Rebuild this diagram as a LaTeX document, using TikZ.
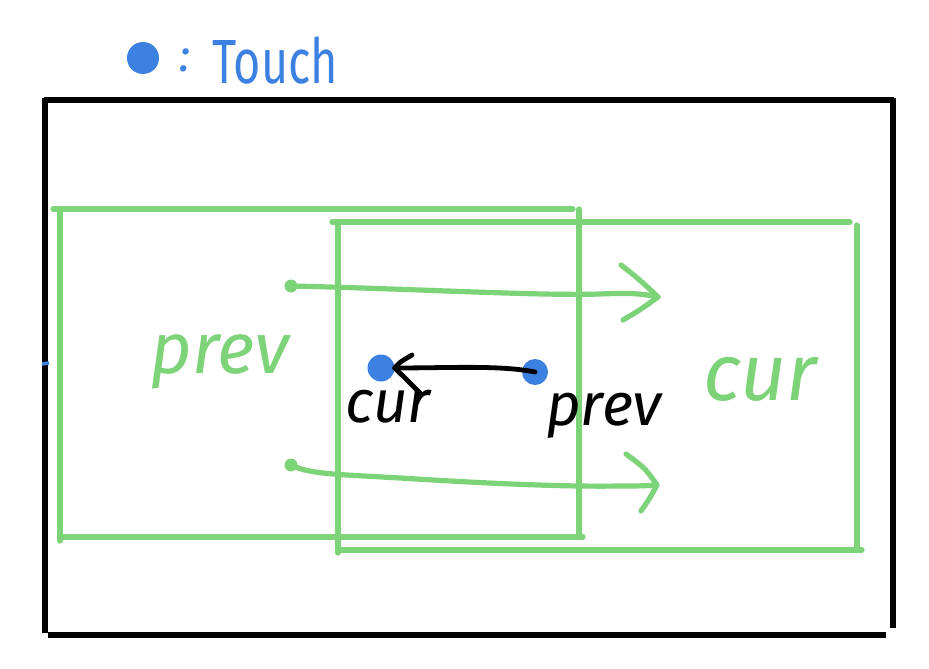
\documentclass[tikz,border=0pt]{standalone}
\usepackage{fontspec}
\setmainfont{Fira Sans}
\definecolor{gcol}{RGB}{125,211,120}
\definecolor{bcol}{RGB}{60,128,226}
\begin{document}
\begin{tikzpicture}[x=1pt,y=-1pt,
  frame/.style={line width=6pt, black},
  gline/.style={line width=5.2pt, gcol, line cap=round, line join=round},
  aline/.style={line width=4.8pt, black, line cap=round, line join=round},
  bdot/.style={circle, fill=bcol, inner sep=0pt, minimum size=#1},
  gdot/.style={circle, fill=gcol, inner sep=0pt, minimum size=13pt},
  lbl/.style={inner sep=0pt, font=\itshape\fontsize{#1}{#1}\selectfont}
]
\useasboundingbox (0,0) rectangle (929,669);
% legend
\node[bdot=32pt] (ldot) at (143,58) {};
\node[lbl=46, text=bcol] (colon) at (185,60) {:};
\node[lbl=52, text=bcol, anchor=base west] (touch) at (212,84) {\scalebox{0.9}[1.2]{\upshape Touch}};
% black frame
\draw[frame] (44,100) -- (894,100);
\draw[frame] (893,98) -- (893,628);
\draw[frame] (45,98) -- (45,633);
\draw[frame] (48,635) -- (886,635);
\draw[line width=3.5pt, bcol] (42,364) -- (49,363);
% green boxes
\draw[gline] (53,209) -- (573,209);
\draw[gline] (60,209) -- (60,541);
\draw[gline] (60,537) -- (583,537);
\draw[gline] (579,209) -- (579,537);
\draw[gline] (332,222) -- (850,222);
\draw[gline] (338,222) -- (338,553);
\draw[gline] (338,550) -- (862,550);
\draw[gline] (857,225) -- (857,550);
% green labels
\node[lbl=72, text=gcol] (gprev) at (220,362) {prev};
\node[lbl=80, text=gcol] (gcur) at (760,379) {cur};
% upper green arrow
\node[gdot] (p1) at (291,286) {};
\coordinate (t1) at (658,297);
\draw[gline] (p1.center) .. controls (420,289) and (540,296) .. (600,294) .. controls (625,293) and (640,293) .. (t1);
\draw[gline] (621,265) .. controls (640,280) .. (t1) .. controls (640,310) .. (623,320);
% lower green arrow
\node[gdot] (p2) at (291,465) {};
\coordinate (t2) at (657,485);
\draw[gline] (p2.center) .. controls (310,474) and (330,474) .. (400,478) .. controls (480,483) and (560,487) .. (620,486) .. controls (640,486) .. (t2);
\draw[gline] (626,454) .. controls (645,468) .. (t2) .. controls (650,498) .. (641,511);
% middle blue dots and black arrow
\node[bdot=27pt] (bL) at (381,368) {};
\node[bdot=26pt] (bR) at (535,372) {};
\draw[aline] (bR.center) .. controls (500,365) and (450,368) .. (bL.east);
\draw[aline] (412,355) .. controls (400,362) .. (bL.east) .. controls (405,378) .. (421,394);
% black labels
\node[lbl=60] (bcur) at (388,407) {cur};
\node[lbl=60] (bprev) at (604,416) {prev};
\end{tikzpicture}
\end{document}
